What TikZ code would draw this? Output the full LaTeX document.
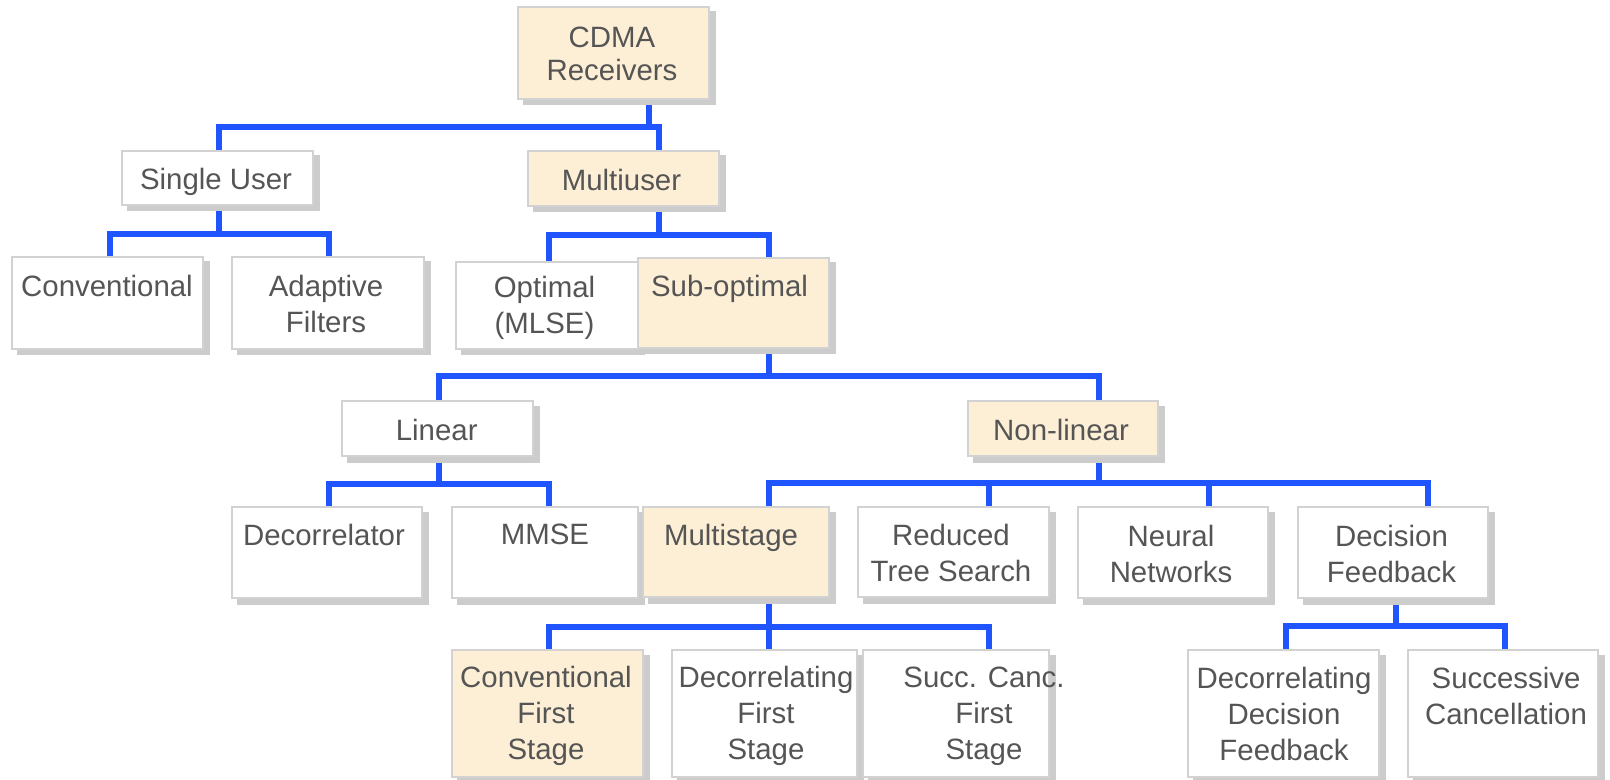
\documentclass[tikz,border=0pt]{standalone}
\usepackage{fontspec}
\setmainfont{Liberation Sans}
\usetikzlibrary{shadows,backgrounds}
\definecolor{busblue}{RGB}{31,84,255}
\definecolor{edgegray}{RGB}{210,210,210}
\definecolor{shadegray}{RGB}{204,204,204}
\definecolor{beige}{RGB}{253,239,213}
\definecolor{inkgray}{RGB}{85,85,85}

% box: name, x1, y1, x2, y2 (pixel grid), box style, text x, first-line centre y, text
\newcommand\chartbox[9]{%
  \pgfmathsetmacro\boxw{(#4-#2)*0.5}%
  \pgfmathsetmacro\boxh{(#5-#3)*0.5}%
  \node[#6, minimum width=\boxw pt, minimum height=\boxh pt] (#1) at ({(#2+#4)/2},{(#3+#5)/2}) {};
  \node[caption, anchor=north] (#1-text) at (#7,#8-11) {#9};
}

\begin{document}
\begin{tikzpicture}[x=0.5pt,y=-0.5pt,
  conn/.style={draw=busblue, line width=2.6pt},
  plainbox/.style={draw=edgegray, line width=1pt, fill=white, inner sep=0pt, outer sep=0pt,
    general shadow={fill=shadegray, draw=shadegray, shadow xshift=2.75pt, shadow yshift=-2.75pt}},
  tanbox/.style={plainbox, fill=beige},
  caption/.style={inner sep=0pt, align=center, text=inkgray, font=\fontsize{14.7}{18}\selectfont}]
\useasboundingbox (0,0) rectangle (1610,780);

% level 0
\chartbox{cdma}{518}{7}{709}{99}{tanbox}{612}{37.7}{CDMA\\[-1.5pt]Receivers}
% level 1
\chartbox{su}{122}{151}{313}{205}{plainbox}{216}{179}{Single User}
\chartbox{mu}{528}{151}{719}{206}{tanbox}{621.5}{180}{Multiuser}
% level 2
\chartbox{conv}{12}{257}{203}{349}{plainbox}{107}{285.7}{Conventional}
\chartbox{adapt}{232}{257}{424}{349}{plainbox}{326}{285.5}{Adaptive\\Filters}
\chartbox{opt}{456}{262}{638}{349}{plainbox}{544.5}{286.5}{Optimal\\(MLSE)}
\chartbox{sub}{638}{258}{829}{348}{tanbox}{729.5}{286}{Sub-optimal}
% level 3
\chartbox{lin}{342}{401}{533}{456}{plainbox}{436.7}{429.3}{Linear}
\chartbox{nonlin}{968}{401}{1158}{456}{tanbox}{1061}{429.3}{Non-linear}
% level 4
\chartbox{decor}{232}{507}{422}{598}{plainbox}{324}{535}{Decorrelator}
\chartbox{mmse}{452}{507}{638}{598}{plainbox}{545}{535}{MMSE}
\chartbox{mstage}{643}{507}{829}{597}{tanbox}{731}{535}{Multistage}
\chartbox{rts}{858}{507}{1049}{597}{plainbox}{951}{535}{Reduced\\Tree Search}
\chartbox{neural}{1078}{507}{1268}{598}{plainbox}{1171}{535.5}{Neural\\Networks}
\chartbox{df}{1298}{507}{1488}{598}{plainbox}{1391.5}{535.5}{Decision\\Feedback}
% level 5
\chartbox{cfs}{452}{650}{643}{777}{tanbox}{546}{677}{Conventional\\First\\Stage}
\chartbox{dfs}{672}{650}{857}{777}{plainbox}{766}{677}{Decorrelating\\First\\Stage}
\chartbox{scfs}{863}{650}{1049}{777}{plainbox}{984}{677.5}{Succ. Canc.\\First\\Stage}
\chartbox{ddf}{1188}{650}{1379}{777}{plainbox}{1284}{678}{Decorrelating\\Decision\\Feedback}
\chartbox{sc}{1408}{650}{1598}{777}{plainbox}{1506}{678}{Successive\\Cancellation}

\begin{scope}[on background layer]
  % CDMA receivers
  \draw[conn] (cdma.south -| 649,0) -- (649,127);
  \draw[conn] (su.north -| 219,0) -- (219,127) -- (659,127) -- (mu.north -| 659,0);
  % single user
  \draw[conn] (su.south -| 219,0) -- (219,234);
  \draw[conn] (conv.north -| 110,0) -- (110,234) -- (329,234) -- (adapt.north -| 329,0);
  % multiuser
  \draw[conn] (mu.south -| 659,0) -- (659,235);
  \draw[conn] (opt.north -| 549,0) -- (549,235) -- (769,235) -- (sub.north -| 769,0);
  % sub-optimal
  \draw[conn] (sub.south -| 769,0) -- (769,376);
  \draw[conn] (lin.north -| 439,0) -- (439,376) -- (1099,376) -- (nonlin.north -| 1099,0);
  % linear
  \draw[conn] (lin.south -| 439,0) -- (439,484);
  \draw[conn] (decor.north -| 329,0) -- (329,484) -- (549,484) -- (mmse.north -| 549,0);
  % non-linear
  \draw[conn] (nonlin.south -| 1099,0) -- (1099,483);
  \draw[conn] (mstage.north -| 769,0) -- (769,483) -- (1428,483) -- (df.north -| 1428,0);
  \draw[conn] (rts.north -| 989,0) -- (989,483);
  \draw[conn] (neural.north -| 1209,0) -- (1209,483);
  % multistage
  \draw[conn] (mstage.south -| 769,0) -- (dfs.north -| 769,0);
  \draw[conn] (cfs.north -| 549,0) -- (549,627) -- (989,627) -- (scfs.north -| 989,0);
  % decision feedback
  \draw[conn] (df.south -| 1396,0) -- (1396,626);
  \draw[conn] (ddf.north -| 1286,0) -- (1286,626) -- (1505,626) -- (sc.north -| 1505,0);
\end{scope}
\end{tikzpicture}
\end{document}
